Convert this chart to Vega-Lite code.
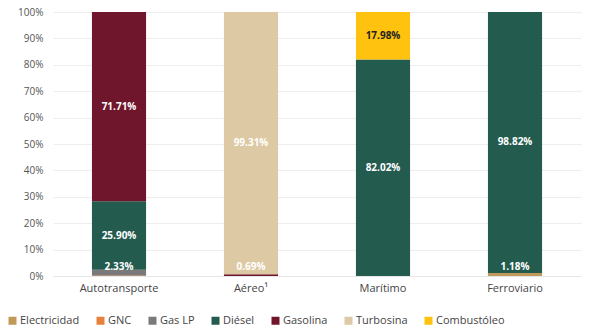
{
  "$schema": "https://vega.github.io/schema/vega-lite/v6.json",
  "width": 528,
  "height": 264,
  "autosize": {"type": "none"},
  "padding": {"left": 53, "top": 12, "right": 9, "bottom": 58},
  "background": "white",
  "config": {
    "view": {"stroke": null},
    "font": "Open Sans"
  },
  "data": {
    "values": [
      {"Modo": "Autotransporte", "Combustible": "Gas LP", "Pct": 2.33},
      {"Modo": "Autotransporte", "Combustible": "GNC", "Pct": 0.06},
      {"Modo": "Autotransporte", "Combustible": "Diésel", "Pct": 25.90},
      {"Modo": "Autotransporte", "Combustible": "Gasolina", "Pct": 71.71},
      {"Modo": "Aéreo¹", "Combustible": "Gasolina", "Pct": 0.69},
      {"Modo": "Aéreo¹", "Combustible": "Turbosina", "Pct": 99.31},
      {"Modo": "Marítimo", "Combustible": "Diésel", "Pct": 82.02},
      {"Modo": "Marítimo", "Combustible": "Combustóleo", "Pct": 17.98},
      {"Modo": "Ferroviario", "Combustible": "Electricidad", "Pct": 1.18},
      {"Modo": "Ferroviario", "Combustible": "Diésel", "Pct": 98.82}
    ]
  },
  "transform": [
    {"calculate": "indexof(['Electricidad','GNC','Gas LP','Diésel','Gasolina','Turbosina','Combustóleo'], datum.Combustible)", "as": "orden"},
    {"stack": "Pct", "groupby": ["Modo"], "sort": [{"field": "orden", "order": "ascending"}], "as": ["y0", "y1"]},
    {"calculate": "max((datum.y0 + datum.y1) / 2, 3.3)", "as": "mid"},
    {"calculate": "format(datum.Pct, '.2f') + '%'", "as": "lbl"}
  ],
  "layer": [
    {
      "mark": {"type": "bar"},
      "encoding": {
        "x": {
          "field": "Modo", "type": "nominal",
          "sort": ["Autotransporte", "Aéreo¹", "Marítimo", "Ferroviario"],
          "scale": {"paddingInner": 0.59, "paddingOuter": 0.295},
          "axis": {"title": null, "labelAngle": 0, "ticks": false, "domainColor": "#e6e6e6", "labelColor": "#444444", "labelFontSize": 11, "labelPadding": 6}
        },
        "y": {
          "field": "y1", "type": "quantitative",
          "scale": {"domain": [0, 100], "nice": false},
          "axis": {"title": null, "values": [0,10,20,30,40,50,60,70,80,90,100], "labelOverlap": false, "labelExpr": "datum.value + '%'", "domain": false, "ticks": false, "gridColor": "#eeeeee", "labelColor": "#555555", "labelFontSize": 10, "labelPadding": 10}
        },
        "y2": {"field": "y0"},
        "color": {
          "field": "Combustible", "type": "nominal",
          "scale": {
            "domain": ["Electricidad", "GNC", "Gas LP", "Diésel", "Gasolina", "Turbosina", "Combustóleo"],
            "range": ["#C09A5B", "#E9803A", "#7A7A7A", "#235B4E", "#6F162C", "#DDC9A3", "#FFC20E"]
          },
          "legend": {
            "title": null, "orient": "none", "direction": "horizontal",
            "legendX": -46, "legendY": 303,
            "symbolType": "square", "symbolSize": 64, "symbolStrokeWidth": 0,
            "labelFontSize": 11, "labelColor": "#444444", "labelOffset": 2,
            "columnPadding": 15
          }
        }
      }
    },
    {
      "transform": [{"filter": "datum.Combustible != 'GNC'"}],
      "mark": {"type": "text", "fontWeight": "bold", "fontSize": 10, "baseline": "middle"},
      "encoding": {
        "x": {"field": "Modo", "type": "nominal", "sort": ["Autotransporte", "Aéreo¹", "Marítimo", "Ferroviario"],
          "axis": {"title": null, "labelAngle": 0, "ticks": false, "domainColor": "#e6e6e6", "labelColor": "#444444", "labelFontSize": 11, "labelPadding": 6}},
        "y": {"field": "mid", "type": "quantitative",
          "axis": {"title": null, "values": [0,10,20,30,40,50,60,70,80,90,100], "labelOverlap": false, "labelExpr": "datum.value + '%'", "domain": false, "ticks": false, "gridColor": "#eeeeee", "labelColor": "#555555", "labelFontSize": 10, "labelPadding": 10}},
        "text": {"field": "lbl", "type": "nominal"},
        "color": {
          "condition": {"test": "datum.Combustible == 'Combustóleo'", "value": "#222222"},
          "value": "#ffffff"
        }
      }
    }
  ]
}
